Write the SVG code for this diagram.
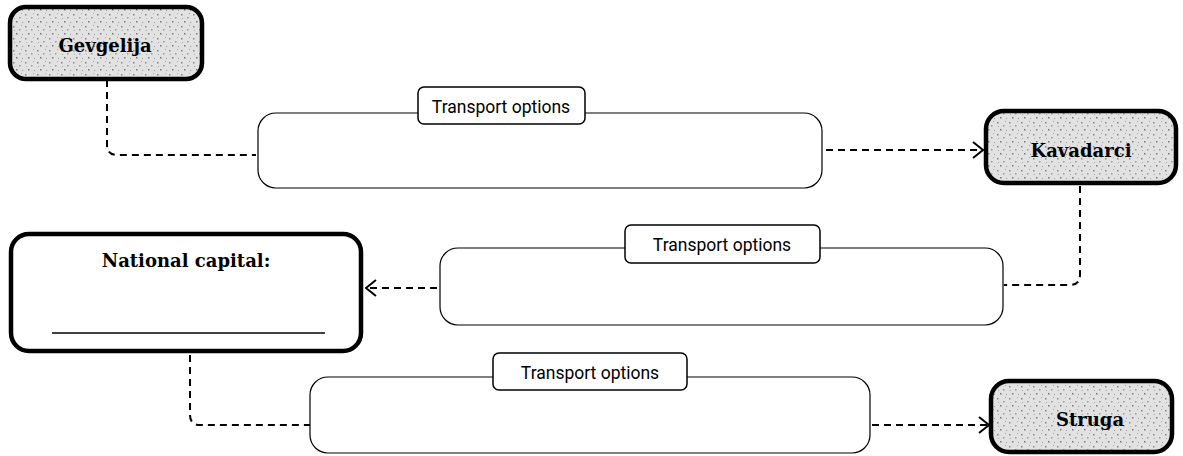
<svg xmlns="http://www.w3.org/2000/svg" width="1183" height="456" viewBox="0 0 1183 456">
<style>
.city{fill:url(#speck);stroke:#000;stroke-width:4.5}
.cityt{font-family:"DejaVu Serif",serif;font-weight:bold;font-size:18px;text-anchor:middle;fill:#000}
.tbox{fill:#fff;stroke:#000;stroke-width:1.2}
.lbox{fill:#fff;stroke:#000;stroke-width:1.5}
.lt{font-family:Roboto,"Liberation Sans",sans-serif;font-size:17.5px;text-anchor:middle;fill:#000}
.dash{fill:none;stroke:#000;stroke-width:2;stroke-dasharray:7 5}
</style>
<defs>
<pattern id="speck" width="12" height="12" patternUnits="userSpaceOnUse">
<rect width="12" height="12" fill="#e2e2e2"/>
<rect x="1" y="2" width="1.5" height="1.5" fill="#888"/>
<rect x="7" y="5" width="1.5" height="1.5" fill="#999"/>
<rect x="4" y="9" width="1.5" height="1.5" fill="#777"/>
<rect x="10" y="10" width="1" height="1" fill="#999"/>
<rect x="9" y="1" width="1" height="1" fill="#aaa"/>
<rect x="2" y="6" width="1" height="1" fill="#aaa"/>
</pattern>
<marker id="arr" viewBox="0 0 12 18" refX="11" refY="9" markerWidth="12" markerHeight="18" markerUnits="userSpaceOnUse" orient="auto">
<path d="M1 1 L11 9 L1 17" fill="none" stroke="#000" stroke-width="2"/>
</marker>
</defs>
<g id="connectors">
<path class="dash" d="M107 80 V145 Q107 155 117 155 H256"/>
<path class="dash" d="M826 150 H983" marker-end="url(#arr)"/>
<path class="dash" d="M1080 186 V275 Q1080 285 1070 285 H1004"/>
<path class="dash" d="M437 288 H366" marker-end="url(#arr)"/>
<path class="dash" d="M190 355 V415 Q190 425 200 425 H310"/>
<path class="dash" d="M872 425 H989" marker-end="url(#arr)"/>
</g>
<g id="gevgelija">
<rect class="city" x="10" y="7" width="192" height="72" rx="16"/>
<text class="cityt" x="105" y="52">Gevgelija</text>
</g>
<g id="transport1">
<rect class="tbox" x="258" y="113" width="564" height="75" rx="18"/>
<rect class="lbox" x="418" y="87" width="167" height="37" rx="6"/>
<text class="lt" x="501" y="113">Transport options</text>
</g>
<g id="kavadarci">
<rect class="city" x="986" y="111" width="190" height="72" rx="18"/>
<text class="cityt" x="1081" y="157">Kavadarci</text>
</g>
<g id="transport2">
<rect class="tbox" x="440" y="248" width="563" height="77" rx="18"/>
<rect class="lbox" x="625" y="225" width="195" height="38" rx="6"/>
<text class="lt" x="722" y="251">Transport options</text>
</g>
<g id="national">
<rect class="city" x="11" y="234" width="350" height="117" rx="18" style="fill:#fff"/>
<text class="cityt" x="186" y="267">National capital:</text>
<line x1="52" y1="333" x2="325" y2="333" stroke="#000" stroke-width="1.5"/>
</g>
<g id="transport3">
<rect class="tbox" x="310" y="377" width="560" height="76" rx="18"/>
<rect class="lbox" x="493" y="353" width="194" height="37" rx="6"/>
<text class="lt" x="590" y="379">Transport options</text>
</g>
<g id="struga">
<rect class="city" x="991" y="381" width="181" height="71" rx="18"/>
<text class="cityt" x="1090" y="426">Struga</text>
</g>
</svg>
